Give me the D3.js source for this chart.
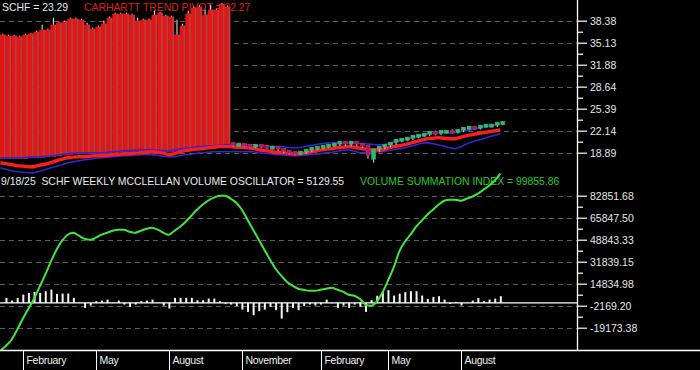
<!DOCTYPE html>
<html><head><meta charset="utf-8">
<script src="https://cdn.jsdelivr.net/npm/d3@7"></script>
<style>html,body{margin:0;padding:0;background:#000;overflow:hidden}</style>
</head><body><svg id="c" width="700" height="370"></svg>
<script>
// ---------- DATA ----------
const weeks = d3.timeFriday.range(new Date(2024,0,5), new Date(2025,8,20)); // 90 weekly dates
// pre-split weekly bars (Jan 2024 - Oct 2024), unadjusted price
const preTop = [36.31,36.16,36.16,36.02,36.31,36.46,36.75,37.05,37.05,37.79,
 38.08,38.23,38.67,38.67,38.53,37.79,37.20,37.49,37.94,38.82,
 39.41,39.41,39.41,39.26,38.38,38.53,38.53,39.26,39.56,39.12,
 38.97,36.31,37.64,39.41,40.30,40.45,39.26,40.00,40.00,40.89,40.45];
const preHigh = [36.46,36.31,36.31,36.16,36.46,36.60,36.90,37.79,37.20,38.82,
 38.23,38.38,38.82,38.82,38.67,38.08,37.35,37.64,38.38,38.97,
 39.56,39.56,39.56,39.41,38.82,38.67,38.67,39.85,39.71,39.26,
 39.12,38.53,37.94,39.85,40.45,40.60,40.00,40.74,40.15,41.04,40.60];
// post-split weekly candles (Oct 2024 - Sep 2025)
const postOpen = [20.22,20.07,20.07,19.92,19.78,19.92,19.78,19.63,19.63,19.33,
 19.04,18.89,18.74,18.89,19.19,19.48,19.63,19.78,19.92,20.07,
 20.37,20.07,20.37,20.07,19.78,17.71,19.19,19.63,19.92,20.22,
 20.66,20.81,20.96,21.25,21.40,21.55,21.84,21.70,21.99,21.99,
 21.92,22.14,22.43,22.58,22.51,22.73,22.88,22.88,23.17];
const postHigh = [20.30,20.22,20.14,20.00,20.00,19.98,19.86,19.75,19.70,19.40,
 19.12,18.98,18.98,19.26,19.56,19.70,19.86,19.99,20.15,20.45,
 20.48,20.45,20.44,20.15,19.86,19.30,19.70,20.00,20.30,20.74,
 20.90,21.05,21.33,21.48,21.63,21.92,22.00,22.07,22.10,22.22,
 22.25,22.51,22.66,22.70,22.81,22.96,23.00,23.25,23.40];
const postLow = [19.95,19.95,19.85,19.70,19.72,19.70,19.55,19.55,19.25,18.96,
 18.80,18.65,18.68,18.84,19.12,19.42,19.56,19.72,19.86,20.00,
 19.98,19.98,19.98,19.70,18.15,17.56,19.10,19.55,19.85,20.15,
 20.58,20.73,20.90,21.18,21.33,21.48,21.62,21.62,21.90,21.85,
 21.85,22.08,22.36,22.43,22.45,22.66,22.80,22.82,23.10];
const postClose = [20.07,20.07,19.92,19.78,19.92,19.78,19.63,19.63,19.33,19.04,
 18.89,18.74,18.89,19.19,19.48,19.63,19.78,19.92,20.07,20.37,
 20.07,20.37,20.07,19.78,18.30,19.19,19.63,19.92,20.22,20.66,
 20.81,20.96,21.25,21.40,21.55,21.84,21.70,21.99,21.99,21.92,
 22.14,22.43,22.58,22.51,22.73,22.88,22.88,23.17,23.29];
// Carhartt trend pivot (red) and bands (blue)
const pivotLine = [17.41,17.27,17.12,16.97,16.90,16.82,16.82,17.04,17.19,17.41,
 17.71,17.93,18.15,18.23,18.30,18.30,18.37,18.45,18.45,18.52,
 18.59,18.67,18.74,18.74,18.82,18.89,18.96,19.04,18.96,18.82,
 18.59,18.74,19.04,19.19,19.33,19.41,19.48,19.63,19.70,19.78,
 19.78,19.78,19.70,19.70,19.63,19.55,19.33,19.19,19.11,18.96,
 18.89,18.82,18.74,18.74,18.82,18.96,19.11,19.26,19.41,19.48,
 19.63,19.70,19.78,19.70,19.55,19.41,19.33,19.33,19.33,19.55,
 19.78,19.92,20.07,20.29,20.51,20.74,20.96,21.03,21.11,21.03,
 20.96,20.96,21.18,21.40,21.55,21.70,21.85,21.98,22.12,22.27];
const upperBand = [18.15,18.15,18.15,18.15,18.15,18.23,18.23,18.30,18.37,18.45,
 18.52,18.67,18.74,18.82,18.89,18.89,18.89,18.89,18.89,18.96,
 19.04,19.11,19.19,19.19,19.26,19.33,19.33,19.33,19.26,19.19,
 19.19,19.33,19.48,19.55,19.63,19.78,19.85,19.92,19.92,20.00,
 20.07,20.07,20.07,20.07,20.07,20.07,19.92,19.92,19.85,19.78,
 19.78,19.70,19.63,19.63,19.78,19.92,20.07,20.22,20.29,20.37,
 20.37,20.37,20.37,20.37,20.29,20.22,20.14,20.07,20.07,20.22,
 20.44,20.66,20.81,21.03,21.25,21.47,21.70,21.77,21.84,21.84,
 21.84,21.84,21.99,22.14,22.29,22.51,22.73,22.88,23.02,23.10];
const lowerBand = [16.68,16.45,16.23,16.08,16.01,15.94,15.94,16.16,16.38,16.68,
 16.90,17.12,17.41,17.56,17.71,17.86,17.93,18.08,18.15,18.23,
 18.30,18.37,18.45,18.45,18.52,18.59,18.59,18.59,18.52,18.37,
 18.30,18.30,18.45,18.59,18.67,18.82,18.89,18.96,19.04,19.04,
 19.04,19.04,19.04,19.04,19.04,19.04,18.89,18.82,18.74,18.59,
 18.59,18.52,18.45,18.45,18.52,18.59,18.67,18.74,18.89,18.96,
 19.11,19.26,19.33,19.11,18.89,18.89,18.96,19.04,19.04,19.19,
 19.33,19.48,19.63,19.85,20.07,20.29,20.37,20.22,20.07,19.85,
 19.63,19.48,19.78,20.22,20.51,20.74,20.96,21.25,21.47,21.70];
// McClellan volume oscillator (white bars) and summation index (green line)
const oscillator = [null,3865,1780,3865,6415,7730,8500,7730,9040,10280,
 6955,7190,7190,3865,300,-3865,-2085,1315,1780,2550,
 400,1780,-1315,-3090,-1315,1315,1780,2550,200,-2085,
 -4405,3865,3865,3865,3865,2085,2085,3325,3325,1315,
 -775,-1315,-2550,-5180,-6955,-9505,-6415,-5180,-3090,-5640,
 -12135,-7190,-3865,-5640,-2550,-1315,-2085,-1315,2550,-300,
 -3865,-2085,-3865,-1315,-3090,-6955,2085,5500,9040,9815,
 5640,7190,8270,9040,9040,5640,3090,4640,5180,2550,
 -775,775,-2085,300,1780,3865,1315,2550,3325,5129.55];
const summation = [-36950,-33086,-28448,-20719,-12217,-4488,3241,12516,21792,31839,
 41115,48071,52708,54254,51935,49617,48844,50390,52708,54254,
 55800,56573,56573,55027,54254,55800,57346,58119,56573,54254,
 52708,55800,58892,62756,67394,72031,75896,78988,81306,82852,
 82852,80533,77442,72031,64302,56573,48844,41115,33386,26429,
 21019,16381,13289,10971,10198,9425,9425,10198,10971,11744,
 10198,8652,6333,5560,3241,-1396,-2169,923,7879,17154,
 27202,39569,47298,52708,58892,63529,68167,72031,75896,78988,
 79761,79761,78988,80533,82079,84398,87490,90581,94446,99855.86];
const priceTicks = ["18.89","22.14","25.39","28.64","31.88","35.13","38.38"];
const volTicks = ["-19173.38","-2169.20","14834.98","31839.15","48843.33","65847.50","82851.68"];
const monthLabels = ["February","May","August","November","February","May","August"];
const titleTop1 = "SCHF = 23.29";
const titleTop2 = "CARHARTT TREND PIVOT = 22.27";
const titleBot1 = "9/18/25  SCHF WEEKLY MCCLELLAN VOLUME OSCILLATOR = 5129.55";
const titleBot2 = "VOLUME SUMMATION INDEX = 99855.86";

// ---------- CHART ----------
(function () {
const W = 700, H = 370, plotR = 577, axisY = 350;
const FONT = "'Liberation Sans', Arial, sans-serif";
const TFS = 10.4;
const svg = d3.select("#c");
svg.append("rect").attr("width", W).attr("height", H).attr("fill", "#000");

const x = d3.scaleTime().domain([new Date(2024,1,2), new Date(2025,7,1)]).range([22.8, 461]);
const yP = d3.scaleLinear().domain([18.89, 38.38]).range([152.7, 20.7]);
const yV = d3.scaleLinear().domain([-19173.38, 82851.68]).range([327.7, 195.7]);
const pVals = priceTicks.map(Number), vVals = volTicks.map(Number);
const mid = a => a.slice(1).map((v, i) => (v + a[i]) / 2);

const defs = svg.append("defs");
defs.append("clipPath").attr("id", "clipTop").append("rect").attr("x", 0).attr("y", 0).attr("width", plotR).attr("height", 176);
defs.append("clipPath").attr("id", "clipBot").append("rect").attr("x", 0).attr("y", 170).attr("width", plotR).attr("height", axisY - 170);

// grid lines
const grid = svg.append("g").attr("stroke", "#5e5e5e").attr("stroke-width", 1).attr("stroke-dasharray", "5,4");
pVals.forEach(v => grid.append("line").attr("x1", 0).attr("x2", plotR).attr("y1", Math.round(yP(v)) + 0.5).attr("y2", Math.round(yP(v)) + 0.5));
vVals.forEach(v => grid.append("line").attr("x1", 0).attr("x2", plotR).attr("y1", Math.round(yV(v)) + 0.5).attr("y2", Math.round(yV(v)) + 0.5));

// titles (drawn under bars)
svg.append("text").attr("x", 2).attr("y", 11).attr("fill", "#e8e8e8").attr("font-family", FONT).attr("font-size", TFS).text(titleTop1);
svg.append("text").attr("x", 84).attr("y", 11).attr("fill", "#e01a1a").attr("font-family", FONT).attr("font-size", TFS).text(titleTop2);
svg.append("text").attr("x", 1).attr("y", 185).attr("fill", "#ececec").attr("font-family", FONT).attr("font-size", TFS).style("white-space", "pre").text(titleBot1);
svg.append("text").attr("x", 360).attr("y", 185).attr("fill", "#22cc22").attr("font-family", FONT).attr("font-size", TFS).text(titleBot2);

// top panel
const topG = svg.append("g").attr("clip-path", "url(#clipTop)");
const bw = 5.62;
const preWeeks = weeks.slice(0, preTop.length);
topG.selectAll("rect.pre").data(preWeeks).join("rect")
  .attr("x", (d) => x(d) - 0.4).attr("width", bw)
  .attr("y", (d, i) => yP(preTop[i]))
  .attr("height", (d, i) => yP(upperBand[i]) - yP(preTop[i]) + 1)
  .attr("fill", "#e81414");
topG.selectAll("rect.preEdge").data(preWeeks).join("rect")
  .attr("x", (d) => x(d) - 0.4 + bw - 1.7).attr("width", 1.7)
  .attr("y", (d, i) => yP(preTop[i]))
  .attr("height", (d, i) => yP(upperBand[i]) - yP(preTop[i]) + 1)
  .attr("fill", "#a84646");
topG.selectAll("line.preWick").data(preWeeks).join("line")
  .attr("x1", d => x(d) + 2.5).attr("x2", d => x(d) + 2.5)
  .attr("y1", (d, i) => yP(preHigh[i])).attr("y2", (d, i) => yP(preTop[i]))
  .attr("stroke", "#f0f0f0").attr("stroke-width", 1);

const lineGen = arr => d3.line().x((d, i) => x(weeks[i])).y(d => yP(d))(arr);
topG.append("path").attr("d", lineGen(lowerBand)).attr("fill", "none").attr("stroke", "#2a2ad8").attr("stroke-width", 1.6);
topG.append("path").attr("d", lineGen(upperBand)).attr("fill", "none").attr("stroke", "#2a2ad8").attr("stroke-width", 1.6);
topG.append("path").attr("d", lineGen(pivotLine)).attr("fill", "none").attr("stroke", "#ff1c1c").attr("stroke-width", 3.4);

const off = preTop.length;
const postWeeks = weeks.slice(off);
topG.selectAll("line.wick").data(postWeeks).join("line")
  .attr("x1", d => x(d) + 2.5).attr("x2", d => x(d) + 2.5)
  .attr("y1", (d, i) => yP(postHigh[i]) - 1).attr("y2", (d, i) => yP(postLow[i]) + 1)
  .attr("stroke", "#d8d8d8").attr("stroke-width", 1);
topG.selectAll("rect.body").data(postWeeks).join("rect")
  .attr("x", d => x(d) + 0.5).attr("width", 4)
  .attr("y", (d, i) => Math.min(yP(postOpen[i]), yP(postClose[i])) - 1.5)
  .attr("height", (d, i) => Math.max(3, Math.abs(yP(postOpen[i]) - yP(postClose[i]))))
  .attr("fill", (d, i) => postClose[i] >= postOpen[i] ? "#2fc24a" : "#b81c58")
  .attr("stroke", (d, i) => postClose[i] >= postOpen[i] ? "#3aa89a" : "#9a2c78")
  .attr("stroke-width", 0.6);

// bottom panel
const botG = svg.append("g").attr("clip-path", "url(#clipBot)");
const oscIdx = d3.range(weeks.length).filter(i => oscillator[i] !== null);
botG.selectAll("rect.osc").data(oscIdx).join("rect")
  .attr("x", i => x(weeks[i]) - 0.5).attr("width", 2)
  .attr("y", i => Math.min(yV(oscillator[i]), yV(0)))
  .attr("height", i => Math.abs(yV(oscillator[i]) - yV(0)))
  .attr("fill", "#f4f4f4");
botG.append("line").attr("x1", 0).attr("x2", plotR).attr("y1", yV(0)).attr("y2", yV(0)).attr("stroke", "#ffffff").attr("stroke-width", 1.4);
botG.append("path")
  .attr("d", d3.line().x((d, i) => x(weeks[i])).y(d => yV(d)).curve(d3.curveMonotoneX)(summation))
  .attr("fill", "none").attr("stroke", "#3ee83a").attr("stroke-width", 2);

// right axes
const styleAxis = g => {
  g.select(".domain").remove();
  g.selectAll(".tick line").attr("stroke", "#ffffff").attr("stroke-width", 1.2);
  g.selectAll(".tick text").attr("fill", "#e6e6e6").attr("font-family", FONT).attr("font-size", 10.5);
};
svg.append("g").attr("transform", `translate(${plotR},0)`)
  .call(d3.axisRight(yP).tickValues(pVals).tickFormat((d, i) => priceTicks[i]).tickSize(10).tickPadding(3)).call(styleAxis);
svg.append("g").attr("transform", `translate(${plotR},0)`)
  .call(d3.axisRight(yP).tickValues(mid(pVals)).tickFormat("").tickSize(6)).call(styleAxis);
svg.append("g").attr("transform", `translate(${plotR},0)`)
  .call(d3.axisRight(yV).tickValues(vVals).tickFormat((d, i) => volTicks[i]).tickSize(10).tickPadding(3)).call(styleAxis);
svg.append("g").attr("transform", `translate(${plotR},0)`)
  .call(d3.axisRight(yV).tickValues(mid(vVals)).tickFormat("").tickSize(6)).call(styleAxis);
svg.append("line").attr("x1", plotR + 0.5).attr("x2", plotR + 0.5).attr("y1", 0).attr("y2", axisY).attr("stroke", "#fff").attr("stroke-width", 1.3);

// bottom time axis
svg.append("line").attr("x1", 0).attr("x2", W).attr("y1", axisY + 0.5).attr("y2", axisY + 0.5).attr("stroke", "#fff").attr("stroke-width", 1.3);
const monthStarts = weeks.filter((d, i) => i > 0 && d.getMonth() !== weeks[i - 1].getMonth() && [1, 4, 7, 10].includes(d.getMonth()));
const ax = svg.append("g");
monthStarts.forEach((d, k) => {
  const px = Math.round(x(d)) + 0.5;
  ax.append("line").attr("x1", px).attr("x2", px).attr("y1", axisY).attr("y2", H).attr("stroke", "#fff").attr("stroke-width", 1);
  ax.append("text").attr("x", px + 3).attr("y", 364).attr("fill", "#f0f0f0").attr("font-family", FONT).attr("font-size", 10.5).attr("letter-spacing", -0.3).text(monthLabels[k]);
});
})();
</script>
</body></html>
